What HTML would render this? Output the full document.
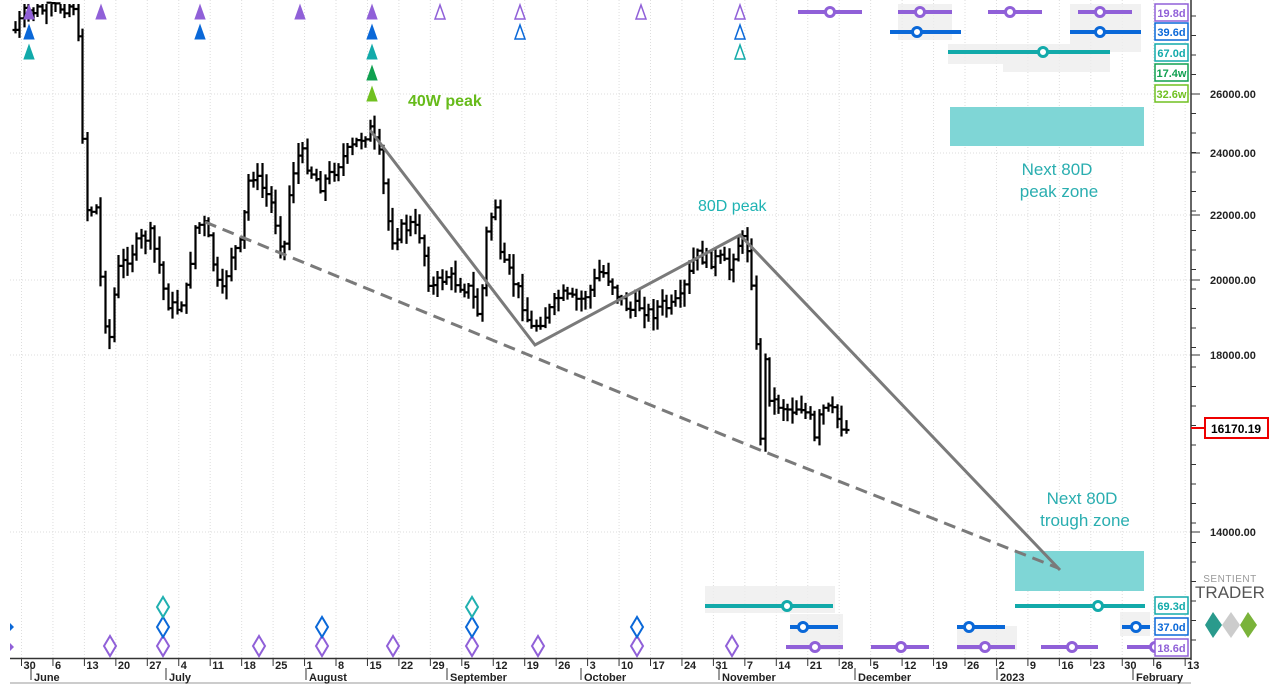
<!DOCTYPE html>
<html><head><meta charset="utf-8"><style>
html,body{margin:0;padding:0;background:#fff;}
svg{display:block;font-family:"Liberation Sans",Arial,sans-serif;}
</style></head><body>
<svg id="s" width="1270" height="685" viewBox="0 0 1270 685" xmlns="http://www.w3.org/2000/svg">
<g id="grid"></g>
<rect x="950" y="107" width="194" height="39" fill="#7fd6d6"/>
<rect x="1015" y="551" width="129" height="40" fill="#7fd6d6"/>
<g fill="#eeeeee" opacity="0.8">
<rect x="898" y="4" width="54" height="36"/>
<rect x="1070" y="4" width="71" height="48"/>
<rect x="948" y="44" width="55" height="20"/>
<rect x="1003" y="44" width="107" height="28"/>
<rect x="705" y="586" width="130" height="27"/>
<rect x="790" y="614" width="53" height="36"/>
<rect x="957" y="626" width="60" height="24"/>
<rect x="1120" y="612" width="30" height="24"/>
</g>
<g id="bars" stroke="#000" stroke-width="2.2" fill="none"></g>
<polyline points="370,130 535,345 740,235 1060,570" fill="none" stroke="#7a7a7a" stroke-width="3"/>
<polyline points="205,222 760,450 1058,568" fill="none" stroke="#7a7a7a" stroke-width="3" stroke-dasharray="12,7"/>
<text x="408" y="106" font-size="16" fill="#66bb1a" font-weight="bold">40W peak</text>
<text x="698" y="211" font-size="16" fill="#1fb3b3">80D peak</text>
<text x="1057" y="175" font-size="17" fill="#2aaeb0" text-anchor="middle">Next 80D</text>
<text x="1059" y="197" font-size="17" fill="#2aaeb0" text-anchor="middle">peak zone</text>
<text x="1082" y="504" font-size="17" fill="#2aaeb0" text-anchor="middle">Next 80D</text>
<text x="1085" y="526" font-size="17" fill="#2aaeb0" text-anchor="middle">trough zone</text>
<g id="marks"></g>
<line x1="1191" y1="0" x2="1191" y2="660" stroke="#333" stroke-width="1.5"/>
<line x1="10" y1="658.5" x2="1191" y2="658.5" stroke="#333" stroke-width="1.5"/>
<line x1="10" y1="683" x2="1191" y2="683" stroke="#ccc" stroke-width="2"/>
<g id="axis" font-size="11" font-weight="bold" fill="#222"></g>
<rect x="1205" y="418" width="63" height="20" fill="#fff" stroke="#e00" stroke-width="2"/>
<line x1="1191" y1="428" x2="1205" y2="428" stroke="#e00" stroke-width="2"/>
<text x="1211" y="433" font-size="12" font-weight="bold" fill="#000">16170.19</text>
<text x="1230" y="582" font-size="10" fill="#999" text-anchor="middle" letter-spacing="0.5">SENTIENT</text>
<text x="1230" y="598" font-size="17" fill="#555" text-anchor="middle">TRADER</text>
<polygon points="1205,625 1213,612 1222,625 1213,638" fill="#2a9a8c"/>
<polygon points="1222,625 1231,612 1240,625 1231,638" fill="#ccc"/>
<polygon points="1240,625 1248,612 1257,625 1248,638" fill="#7ab33a"/>
</svg>
<script>
var NS="http://www.w3.org/2000/svg";
function el(p,t,a,txt){var e=document.createElementNS(NS,t);for(var k in a)e.setAttribute(k,a[k]);if(txt!=null)e.textContent=txt;p.appendChild(e);return e;}
var grid=document.getElementById('grid'),axis=document.getElementById('axis'),marks=document.getElementById('marks'),bars=document.getElementById('bars');
var W=31.45,x0=21.5;
var days=[30,6,13,20,27,4,11,18,25,1,8,15,22,29,5,12,19,26,3,10,17,24,31,7,14,21,28,5,12,19,26,2,9,16,23,30,6,13];
for(var i=0;i<days.length;i++){var x=x0+W*i;
 if(x<1190) el(grid,'line',{x1:x,y1:0,x2:x,y2:658,stroke:'#ddd','stroke-width':1,'stroke-dasharray':'1,2'});
 el(axis,'line',{x1:x,y1:658,x2:x,y2:666,stroke:'#333','stroke-width':1});
 el(axis,'text',{x:x+2,y:669},days[i]);}
var months=[['June',31],['July',166],['August',306],['September',447],['October',581],['November',719],['December',855],['2023',997],['February',1133]];
months.forEach(function(m){el(axis,'line',{x1:m[1],y1:668,x2:m[1],y2:680,stroke:'#333','stroke-width':1});el(axis,'text',{x:m[1]+3,y:681},m[0]);});
var yl=[[94,'26000.00'],[153,'24000.00'],[215,'22000.00'],[280,'20000.00'],[355,'18000.00'],[532,'14000.00']];
yl.forEach(function(v){el(grid,'line',{x1:10,y1:v[0],x2:1190,y2:v[0],stroke:'#ddd','stroke-width':1,'stroke-dasharray':'1,2'});
 el(axis,'line',{x1:1191,y1:v[0],x2:1200,y2:v[0],stroke:'#333'});el(axis,'text',{x:1210,y:v[0]+4},v[1]);});
for(var y=16;y<650;y+=19.5){el(axis,'line',{x1:1191,y1:y,x2:1196,y2:y,stroke:'#333'});}
var kp=[[15,30],[25,12],[75,5],[80,70],[85,205],[90,215],[95,195],[100,275],[108,350],[113,300],[118,270],[125,260],[140,240],[150,235],[160,270],[165,300],[175,310],[185,295],[195,225],[205,225],[210,250],[220,300],[230,255],[240,245],[250,170],[260,185],[270,200],[280,240],[285,245],[290,180],[300,150],[310,170],[320,185],[330,175],[340,160],[350,150],[360,138],[370,130],[380,160],[390,240],[400,230],[410,225],[420,235],[430,290],[445,275],[460,285],[470,290],[480,320],[485,240],[495,200],[500,260],[510,275],[520,295],[530,330],[540,320],[550,310],[560,295],[570,300],[580,300],[590,290],[600,270],[610,280],[620,300],[630,310],[640,305],[650,315],[660,305],[670,308],[680,300],[690,270],[695,255],[710,260],[720,260],[730,270],[735,245],[745,240],[750,260],[755,330],[760,440],[765,360],[770,400],[780,405],[790,410],[800,405],[810,420],[815,445],[820,410],[830,410],[845,430]];
function interp(x){for(var i=1;i<kp.length;i++){if(x<=kp[i][0]){var a=kp[i-1],b=kp[i];return a[1]+(b[1]-a[1])*(x-a[0])/(b[0]-a[0]);}}return kp[kp.length-1][1];}
var seed=7;function rnd(){seed=(seed*9301+49297)%233280;return seed/233280;}
var d='',prev=interp(15);
for(var x=15;x<=846;x+=4.49){var c=interp(x)+(rnd()-0.5)*14;var o=prev;var hi=Math.min(o,c)-2-rnd()*12,lo=Math.max(o,c)+2+rnd()*12;if(hi<4)hi=4;
 var xx=Math.round(x)+0.5;d+='M'+xx+' '+hi.toFixed(1)+'V'+lo.toFixed(1)+'M'+(xx-3)+' '+o.toFixed(1)+'H'+xx+'M'+xx+' '+c.toFixed(1)+'H'+(xx+3);prev=c;}
el(bars,'path',{d:d});
function tri(x,y,col,fill){el(marks,'polygon',{points:(x-5)+','+(y+7)+' '+x+','+(y-7)+' '+(x+5)+','+(y+7),fill:fill?col:'#fff',stroke:col,'stroke-width':fill?1:1.5});}
[29,101,200,300,372].forEach(function(x){tri(x,12,'#9060d8',1)});[440,520,641,740].forEach(function(x){tri(x,12,'#9060d8',0)});
[29,200,372].forEach(function(x){tri(x,32,'#0a68d8',1)});[520,740].forEach(function(x){tri(x,32,'#0a68d8',0)});
tri(29,52,'#12aaaa',1);tri(372,52,'#12aaaa',1);tri(740,52,'#12aaaa',0);tri(372,73,'#10a050',1);tri(372,94,'#70c020',1);
function dia(x,y,col){el(marks,'polygon',{points:(x-6)+','+y+' '+x+','+(y-10)+' '+(x+6)+','+y+' '+x+','+(y+10),fill:'#fff',stroke:col,'stroke-width':2});}
[110,163,259,322,393,472,538,637,732].forEach(function(x){dia(x,646,'#9060d8')});
[163,322,472,637].forEach(function(x){dia(x,627,'#0a68d8')});[163,472].forEach(function(x){dia(x,607,'#20b0b0')});
function rb(x1,x2,cx,y,col){el(marks,'line',{x1:x1,y1:y,x2:x2,y2:y,stroke:col,'stroke-width':4});el(marks,'circle',{cx:cx,cy:y,r:4.5,fill:'#fff',stroke:col,'stroke-width':3});}
var P='#9060d8',B='#0a68d8',T='#12aaaa';
rb(798,862,830,12,P);rb(898,952,920,12,P);rb(988,1042,1010,12,P);rb(1078,1132,1100,12,P);
rb(890,961,917,32,B);rb(1070,1141,1100,32,B);rb(948,1110,1043,52,T);
rb(705,833,787,606,T);rb(1015,1145,1098,606,T);
rb(790,838,803,627,B);rb(957,1005,969,627,B);rb(1122,1150,1136,627,B);
rb(786,843,815,647,P);rb(871,929,901,647,P);rb(957,1015,985,647,P);rb(1041,1098,1072,647,P);rb(1127,1155,1155,647,P);
el(marks,'polygon',{points:'10,623 14,627 10,631',fill:B});el(marks,'polygon',{points:'10,643 14,647 10,651',fill:P});
function lb(y,txt,col){el(marks,'rect',{x:1155,y:y,width:33,height:17,fill:'#fff',stroke:col,'stroke-width':1.5});el(marks,'text',{x:1171.5,y:y+13,'font-size':11,'font-weight':'bold',fill:col,'text-anchor':'middle'},txt);}
lb(4,'19.8d',P);lb(23,'39.6d',B);lb(44,'67.0d',T);lb(64,'17.4w','#10a050');lb(85,'32.6w','#70c020');
lb(597,'69.3d',T);lb(618,'37.0d',B);lb(639,'18.6d',P);
</script>
</body></html>
